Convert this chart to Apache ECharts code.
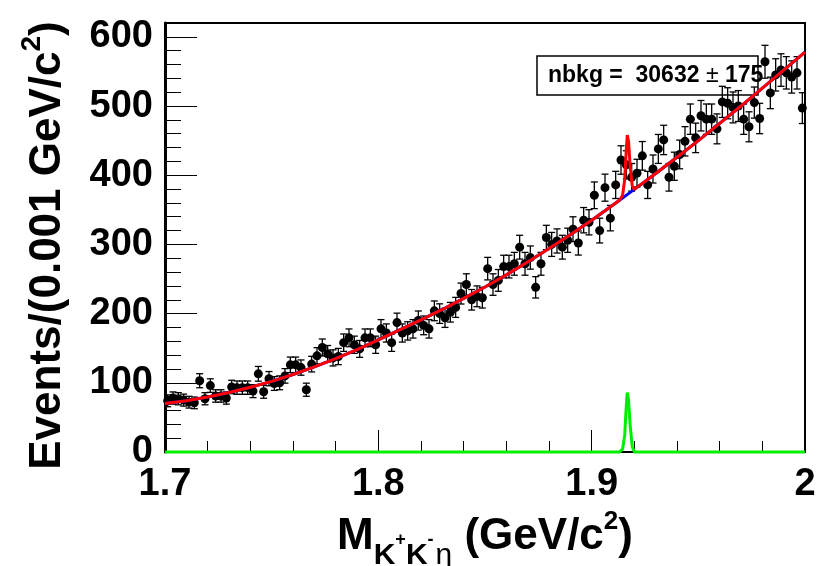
<!DOCTYPE html>
<html><head><meta charset="utf-8">
<script src="https://cdn.jsdelivr.net/npm/echarts@6/dist/echarts.min.js"></script>
<style>html,body{margin:0;padding:0;background:#fff}#c{width:819px;height:566px}</style>
</head><body><div id="c"></div>
<script>
// ---- data ----
const xMin = 1.7, xMax = 2.0, binWidth = 0.0025;
const counts = [
  74, 78, 77, 75, 72, 71, 103, 77, 96, 81,
  81, 78, 94, 93, 93, 93, 88, 113, 87, 106,
  99, 100, 110, 126, 126, 122, 90, 127, 139, 151,
  142, 136, 138, 158, 165, 155, 149, 165, 165, 155,
  178, 172, 158, 187, 172, 175, 178, 190, 183, 178,
  204, 200, 194, 202, 209, 229, 242, 220, 225, 223,
  265, 242, 248, 268, 268, 272, 296, 272, 281, 238,
  272, 310, 300, 305, 296, 306, 322, 302, 335, 332,
  371, 320, 382, 338, 386, 422, 415, 397, 403, 428,
  386, 409, 438, 451, 397, 413, 430, 449, 481, 454,
  486, 481, 481, 467, 506, 504, 498, 500, 481, 470,
  505, 482, 564, 519, 545, 552, 548, 542, 548, 497
];
const bkgX = [1.70,1.71,1.72,1.73,1.74,1.75,1.76,1.77,1.78,1.79,1.80,1.81,1.82,1.83,1.84,1.85,
              1.86,1.87,1.88,1.89,1.90,1.91,1.92,1.93,1.94,1.95,1.96,1.97,1.98,1.99,2.00];
const bkgY = [70,74,79.5,86,93.5,102,112,123,135,148,162,176.5,191,206,222,238.5,
              256,274.5,294,314,335,357,379.5,402.5,426,450,475,500,526,552,578];
const peakX = [1.913,1.9145,1.9155,1.9162,1.9167,1.9173,1.918,1.919,1.920];
const peakTotal = [363.8,371,394,436,458,448.5,415,385,379.5];
const peakSignal = [0,4,25,65,86,75,40,8,0];
const xTickLabels = {'1.7':'1.7','1.8':'1.8','1.9':'1.9','2.0':'2'};
const fitName = 'nbkg', fitValue = '30632', fitError = '175';

// ---- build series data ----
const points = counts.map((c, i) => [xMin + binWidth * (i + 0.5), c, Math.sqrt(c)]);
const bkgLine = bkgX.map((x, i) => [x, bkgY[i]]);
const totalLine = [];
bkgX.forEach((x, i) => { if (x < peakX[0] - 1e-9 || x > peakX[peakX.length - 1] + 1e-9) totalLine.push([x, bkgY[i]]); });
peakX.forEach((x, i) => totalLine.push([x, peakTotal[i]]));
totalLine.sort((a, b) => a[0] - b[0]);
const sigLine = [[xMin, 0]].concat(peakX.map((x, i) => [x, peakSignal[i]])).concat([[xMax, 0]]);

const FONT = "'Liberation Sans', Arial, Helvetica, sans-serif";
const chart = echarts.init(document.getElementById('c'));
chart.setOption({
  animation: false,
  backgroundColor: '#fff',
  grid: { left: 165, right: 14, top: 23, bottom: 114, show: true, borderColor: '#000', borderWidth: 2,
          containLabel: false, outerBoundsMode: 'none' },
  xAxis: [
    { type: 'value', min: xMin, max: xMax, interval: 0.02, position: 'bottom',
      axisLine: { show: true, lineStyle: { color: '#000', width: 2 } },
      axisTick: { show: true, inside: true, length: 11, lineStyle: { color: '#000', width: 1 } },
      axisLabel: { show: false }, splitLine: { show: false } },
    { type: 'value', min: xMin, max: xMax, interval: 0.1, position: 'bottom',
      axisLine: { show: false },
      axisTick: { show: true, inside: true, length: 22, lineStyle: { color: '#000', width: 1 } },
      axisLabel: { show: true, margin: 14, fontSize: 38, fontWeight: 'bold', color: '#000', fontFamily: FONT,
        formatter: v => xTickLabels[(Math.round(v * 10) / 10).toFixed(1)] || '' },
      splitLine: { show: false },
      name: '{m|M}{s|K}{ss|+}{s|K}{ss|-}{eta|η}{m| (GeV/c}{sup|2}{m|)}',
      nameLocation: 'middle', nameGap: 57,
      nameTextStyle: { fontFamily: FONT, color: '#000',
        rich: {
          m: { fontSize: 44, fontWeight: 'bold', fontFamily: FONT, color: '#000', verticalAlign: 'bottom', lineHeight: 50, padding: [0, 0, 12, 0] },
          s: { fontSize: 30, fontWeight: 'bold', fontFamily: FONT, color: '#000', verticalAlign: 'bottom', lineHeight: 34 },
          ss: { fontSize: 18, fontWeight: 'bold', fontFamily: FONT, color: '#000', verticalAlign: 'bottom', lineHeight: 20, padding: [0, 0, 22, 0] },
          eta: { fontSize: 30, fontFamily: FONT, color: '#000', verticalAlign: 'bottom', lineHeight: 34, padding: [0, 0, 0, 2] },
          sup: { fontSize: 26, fontWeight: 'bold', fontFamily: FONT, color: '#000', verticalAlign: 'bottom', lineHeight: 28, padding: [0, 0, 36, 0] }
        } } }
  ],
  yAxis: [
    { type: 'value', min: 0, max: 620, interval: 20, position: 'left',
      axisLine: { show: true, lineStyle: { color: '#000', width: 3 } },
      axisTick: { show: true, inside: true, length: 16, lineStyle: { color: '#000', width: 1 } },
      axisLabel: { show: false }, splitLine: { show: false } },
    { type: 'value', min: 0, max: 620, interval: 100, position: 'left',
      axisLine: { show: false },
      axisTick: { show: true, inside: true, length: 32, lineStyle: { color: '#000', width: 1 } },
      axisLabel: { show: true, margin: 12, fontSize: 38, fontWeight: 'bold', color: '#000', fontFamily: FONT,
        formatter: v => (v > 600 ? '' : String(v)) },
      splitLine: { show: false },
      name: '{m|Events/(0.001 GeV/c}{sup|2}{e|)}',
      nameLocation: 'middle', nameRotate: 90, nameGap: 95,
      nameTextStyle: { fontFamily: FONT, color: '#000',
        rich: {
          m: { fontSize: 44, fontWeight: 'bold', fontFamily: FONT, color: '#000', verticalAlign: 'bottom', lineHeight: 50 },
          e: { fontSize: 44, fontWeight: 'bold', fontFamily: FONT, color: '#000', verticalAlign: 'bottom', lineHeight: 50, padding: [0, 16, 0, 0] },
          sup: { fontSize: 28, fontWeight: 'bold', fontFamily: FONT, color: '#000', verticalAlign: 'bottom', lineHeight: 30, padding: [0, 0, 24, 0] }
        } } }
  ],
  graphic: [
    { type: 'rect', z: 1, shape: { x: 537, y: 56, width: 221, height: 39 },
      style: { fill: '#fff', stroke: '#000', lineWidth: 1.5 } },
    { type: 'text', z: 1, x: 548, y: 76,
      style: { text: '{b|' + fitName + ' =  ' + fitValue + ' }{pm|±}{b| ' + fitError + '}',
        verticalAlign: 'middle',
        rich: { b: { fontSize: 23, fontWeight: 'bold', fontFamily: FONT, fill: '#000' },
                pm: { fontSize: 23, fontFamily: FONT, fill: '#000' } } } }
  ],
  series: [
    { type: 'custom', name: 'errors', xAxisIndex: 0, yAxisIndex: 0, z: 3,
      data: points,
      renderItem: (params, api) => {
        const x = api.value(0), y = api.value(1), e = api.value(2);
        const t = api.coord([x, y + e]), b = api.coord([x, y - e]);
        const cap = 3.5;
        const st = { stroke: '#000', lineWidth: 1.3 };
        return { type: 'group', children: [
          { type: 'line', shape: { x1: t[0], y1: t[1], x2: b[0], y2: b[1] }, style: st },
          { type: 'line', shape: { x1: t[0] - cap, y1: t[1], x2: t[0] + cap, y2: t[1] }, style: st },
          { type: 'line', shape: { x1: b[0] - cap, y1: b[1], x2: b[0] + cap, y2: b[1] }, style: st }
        ] };
      } },
    { type: 'scatter', name: 'data', xAxisIndex: 0, yAxisIndex: 0, z: 4,
      data: points.map(p => [p[0], p[1]]), symbol: 'circle', symbolSize: 9,
      itemStyle: { color: '#000', opacity: 1 } },
    { type: 'line', name: 'bkg', xAxisIndex: 0, yAxisIndex: 0, z: 5, data: bkgLine,
      showSymbol: false, lineStyle: { color: '#0000ff', width: 3 } },
    { type: 'line', name: 'total', xAxisIndex: 0, yAxisIndex: 0, z: 6, data: totalLine,
      showSymbol: false, lineStyle: { color: '#ff0000', width: 3 } },
    { type: 'line', name: 'signal', xAxisIndex: 0, yAxisIndex: 0, z: 7, data: sigLine, clip: false,
      showSymbol: false, lineStyle: { color: '#00ee00', width: 3 } }
  ]
});
</script></body></html>
